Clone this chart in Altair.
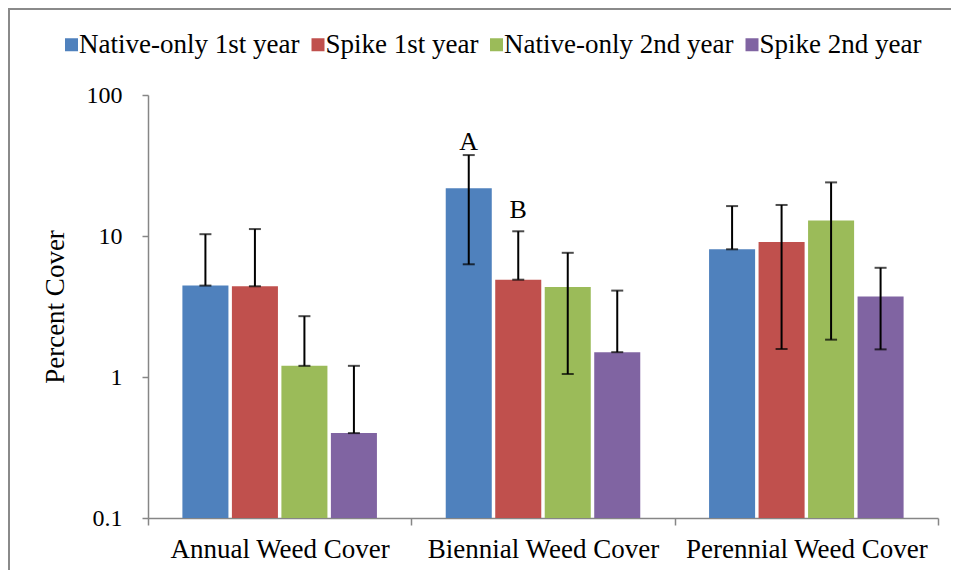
import altair as alt
import pandas as pd

categories = ["Annual Weed Cover", "Biennial Weed Cover", "Perennial Weed Cover"]
series = ["Native-only 1st year", "Spike 1st year", "Native-only 2nd year", "Spike 2nd year"]
colors = ["#4F81BD", "#C0504D", "#9BBB59", "#8064A2"]

mean_n1 = [4.45, 21.8, 8.05]
mean_s1 = [4.4, 4.9, 9.05]
mean_n2 = [1.2, 4.35, 12.9]
mean_s2 = [0.40, 1.50, 3.73]

hi_n1 = [10.3, 37.5, 16.3]
hi_s1 = [11.2, 10.8, 16.6]
hi_n2 = [2.7, 7.6, 24.0]
hi_s2 = [1.2, 4.1, 5.95]

lo_n1 = [4.45, 6.3, 8.05]
lo_s1 = [4.4, 4.9, 1.58]
lo_n2 = [1.2, 1.05, 1.84]
lo_s2 = [0.40, 1.50, 1.57]

letters = ["A", "B"]
letter_cat = ["Biennial Weed Cover", "Biennial Weed Cover"]
letter_series = ["Native-only 1st year", "Spike 1st year"]
letter_y = [41.0, 13.5]

means = [mean_n1, mean_s1, mean_n2, mean_s2]
his = [hi_n1, hi_s1, hi_n2, hi_s2]
los = [lo_n1, lo_s1, lo_n2, lo_s2]

rows = []
for si, s in enumerate(series):
    for ci, c in enumerate(categories):
        rows.append({"cat": c, "series": s, "mean": means[si][ci],
                     "hi": his[si][ci], "lo": los[si][ci]})
df = pd.DataFrame(rows)
ann = pd.DataFrame({"cat": letter_cat, "series": letter_series, "y": letter_y, "t": letters})
frame_df = pd.DataFrame({"k": [0]})

FONT = "Liberation Serif"
GRAY = "#868686"

x_enc = alt.X("cat:N", sort=categories,
              scale=alt.Scale(paddingInner=0, paddingOuter=0),
              axis=alt.Axis(title=None, tickBand="extent", labelAngle=0,
                            labelFont=FONT, labelFontSize=27, labelColor="black",
                            labelLimit=400, labelBaseline="alphabetic", labelPadding=32,
                            tickSize=7, tickColor=GRAY, domainColor=GRAY,
                            domainWidth=1.5, tickWidth=1.5))
xo_enc = alt.XOffset("series:N", sort=series,
                     scale=alt.Scale(paddingInner=0.07, paddingOuter=0.695))
yscale = alt.Scale(type="log", domain=[0.1, 100], nice=False)

bars = alt.Chart(df).mark_bar().encode(
    x=x_enc,
    xOffset=xo_enc,
    y=alt.Y("mean:Q", scale=yscale,
            axis=alt.Axis(title="Percent Cover", values=[0.1, 1, 10, 100], format="~g",
                          grid=False, labelFont=FONT, labelFontSize=24,
                          labelColor="black", labelPadding=20, tickSize=6,
                          tickColor=GRAY, domainColor=GRAY, domainWidth=1.5, tickWidth=1.5,
                          titleFont=FONT, titleFontSize=27, titleFontWeight="normal",
                          titleColor="black", titleX=-85, titleY=211.5,
                          titleBaseline="alphabetic", titleAlign="center", titleAngle=-90)),
    y2=alt.datum(0.1),
    color=alt.Color("series:N", sort=series,
                    scale=alt.Scale(domain=series, range=colors),
                    legend=alt.Legend(title=None, orient="none", legendX=-90, legendY=-64,
                                      direction="horizontal", symbolType="square",
                                      symbolSize=169, symbolStrokeWidth=0,
                                      labelFont=FONT, labelFontSize=27, labelColor="black",
                                      labelOffset={"expr": "-6"}, columnPadding=4.5,
                                      padding=0, labelLimit=400)),
)

rules = alt.Chart(df).mark_rule(color="black", strokeWidth=2).encode(
    x=alt.X("cat:N", sort=categories), xOffset=alt.XOffset("series:N", sort=series),
    y=alt.Y("lo:Q", scale=yscale), y2="hi:Q")

cap_hi = alt.Chart(df).mark_tick(color="black", orient="horizontal", size=12,
                                 thickness=2).encode(
    x=alt.X("cat:N", sort=categories), xOffset=alt.XOffset("series:N", sort=series),
    y=alt.Y("hi:Q", scale=yscale))

cap_lo = alt.Chart(df).mark_tick(color="black", orient="horizontal", size=12,
                                 thickness=2).encode(
    x=alt.X("cat:N", sort=categories), xOffset=alt.XOffset("series:N", sort=series),
    y=alt.Y("lo:Q", scale=yscale))

text = alt.Chart(ann).mark_text(font=FONT, fontSize=26, color="black",
                                baseline="alphabetic", align="center").encode(
    x=alt.X("cat:N", sort=categories), xOffset=alt.XOffset("series:N", sort=series),
    y=alt.Y("y:Q", scale=yscale), text="t:N")

frame_left = alt.Chart(frame_df).mark_rule(color="#8a8a8a", strokeWidth=2).encode(
    x=alt.value(-139), y=alt.value(-87), y2=alt.value(475))
frame_top = alt.Chart(frame_df).mark_rule(color="#8a8a8a", strokeWidth=2).encode(
    x=alt.value(-140), x2=alt.value(803), y=alt.value(-86))

chart = alt.layer(bars, rules, cap_hi, cap_lo, text, frame_left, frame_top).properties(
    width=790, height=423,
    autosize=alt.AutoSizeParams(type="none"),
    padding={"left": 140, "top": 87, "right": 13, "bottom": 52},
).configure(font=FONT).configure_view(stroke=None)

chart.save("out.html", embed_options={"renderer": "svg", "actions": False})
